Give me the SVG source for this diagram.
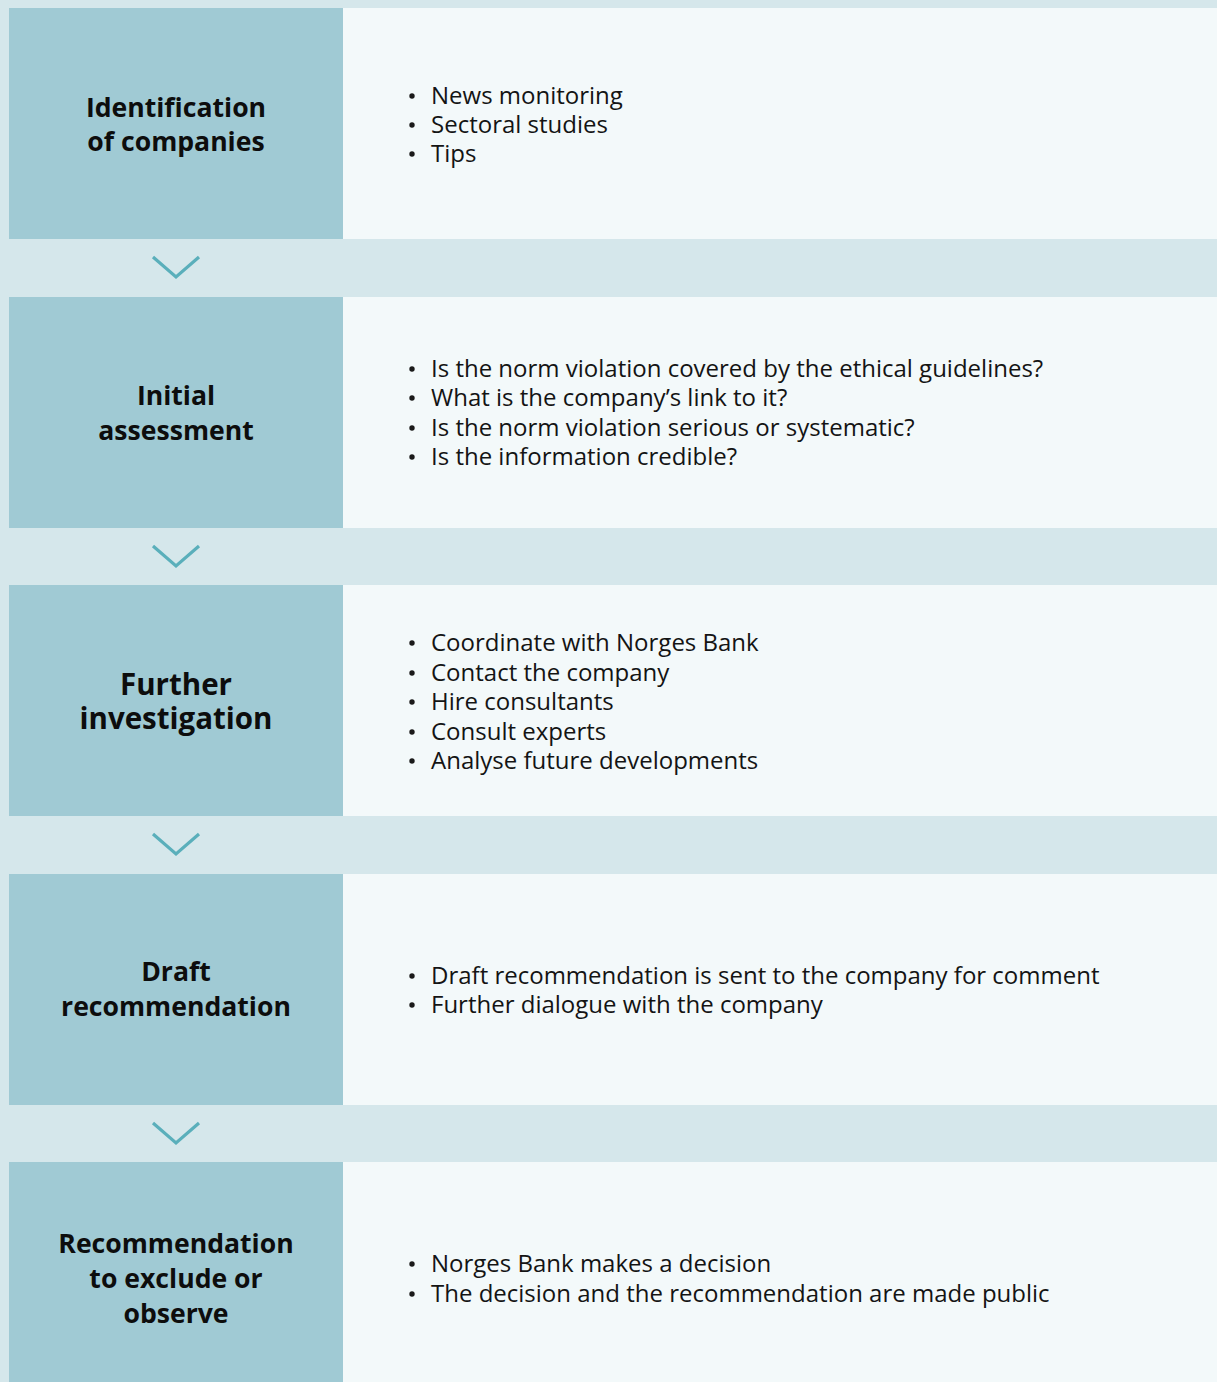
<svg xmlns="http://www.w3.org/2000/svg" width="1217" height="1382" viewBox="0 0 1217 1382">
  <defs>
    <style>
      .stage { fill: #a0cad4; }
      .detail { fill: #f3f9fa; }
      .title { font-family: "Open Sans", "Noto Sans", sans-serif; font-weight: 700; font-size: 26.6px; fill: #0d0d0d; text-anchor: middle; }
      .title.big { font-size: 29.5px; }
      .item { font-family: "Open Sans", "Noto Sans", sans-serif; font-size: 24px; fill: #141414; }
      .dot { fill: #1a1a1a; }
      .chev { fill: none; stroke: #5aafbb; stroke-width: 3.2; }
    </style>
  </defs>
  <rect width="1217" height="1382" fill="#d5e7eb"/>

  <!-- stage 1 -->
  <g id="identification">
    <rect class="stage" x="9" y="8" width="334" height="231"/>
    <rect class="detail" x="343" y="8" width="874" height="231"/>
    <text class="title" x="176" y="117">Identification</text>
    <text class="title" x="176" y="151">of companies</text>
    <g class="item">
      <text x="431" y="104">News monitoring</text>
      <text x="431" y="133">Sectoral studies</text>
      <text x="431" y="162">Tips</text>
    </g>
    <circle class="dot" cx="412" cy="96" r="2.7"/>
    <circle class="dot" cx="412" cy="125" r="2.7"/>
    <circle class="dot" cx="412" cy="154" r="2.7"/>
  </g>

  <!-- stage 2 -->
  <g id="initial-assessment">
    <rect class="stage" x="9" y="297" width="334" height="231"/>
    <rect class="detail" x="343" y="297" width="874" height="231"/>
    <text class="title" x="176" y="405">Initial</text>
    <text class="title" x="176" y="440">assessment</text>
    <g class="item">
      <text x="431" y="377">Is the norm violation covered by the ethical guidelines?</text>
      <text x="431" y="406">What is the company’s link to it?</text>
      <text x="431" y="436">Is the norm violation serious or systematic?</text>
      <text x="431" y="465">Is the information credible?</text>
    </g>
    <circle class="dot" cx="412" cy="369" r="2.7"/>
    <circle class="dot" cx="412" cy="398" r="2.7"/>
    <circle class="dot" cx="412" cy="428" r="2.7"/>
    <circle class="dot" cx="412" cy="457" r="2.7"/>
  </g>

  <!-- stage 3 -->
  <g id="further-investigation">
    <rect class="stage" x="9" y="585" width="334" height="231"/>
    <rect class="detail" x="343" y="585" width="874" height="231"/>
    <text class="title big" x="176" y="695">Further</text>
    <text class="title big" x="176" y="729">investigation</text>
    <g class="item">
      <text x="431" y="651">Coordinate with Norges Bank</text>
      <text x="431" y="681">Contact the company</text>
      <text x="431" y="710">Hire consultants</text>
      <text x="431" y="740">Consult experts</text>
      <text x="431" y="769">Analyse future developments</text>
    </g>
    <circle class="dot" cx="412" cy="643" r="2.7"/>
    <circle class="dot" cx="412" cy="673" r="2.7"/>
    <circle class="dot" cx="412" cy="702" r="2.7"/>
    <circle class="dot" cx="412" cy="732" r="2.7"/>
    <circle class="dot" cx="412" cy="761" r="2.7"/>
  </g>

  <!-- stage 4 -->
  <g id="draft-recommendation">
    <rect class="stage" x="9" y="874" width="334" height="231"/>
    <rect class="detail" x="343" y="874" width="874" height="231"/>
    <text class="title" x="176" y="981">Draft</text>
    <text class="title" x="176" y="1016">recommendation</text>
    <g class="item">
      <text x="431" y="984">Draft recommendation is sent to the company for comment</text>
      <text x="431" y="1013">Further dialogue with the company</text>
    </g>
    <circle class="dot" cx="412" cy="976" r="2.7"/>
    <circle class="dot" cx="412" cy="1005" r="2.7"/>
  </g>

  <!-- stage 5 -->
  <g id="recommendation">
    <rect class="stage" x="9" y="1162" width="334" height="220"/>
    <rect class="detail" x="343" y="1162" width="874" height="220"/>
    <text class="title" x="176" y="1253">Recommendation</text>
    <text class="title" x="176" y="1288">to exclude or</text>
    <text class="title" x="176" y="1323">observe</text>
    <g class="item">
      <text x="431" y="1272">Norges Bank makes a decision</text>
      <text x="431" y="1302">The decision and the recommendation are made public</text>
    </g>
    <circle class="dot" cx="412" cy="1264" r="2.7"/>
    <circle class="dot" cx="412" cy="1294" r="2.7"/>
  </g>

  <!-- chevrons between stages -->
  <g id="connectors">
    <polyline class="chev" points="153,257 176,277 199,257"/>
    <polyline class="chev" points="153,546 176,566 199,546"/>
    <polyline class="chev" points="153,834 176,854 199,834"/>
    <polyline class="chev" points="153,1123 176,1143 199,1123"/>
  </g>
</svg>
